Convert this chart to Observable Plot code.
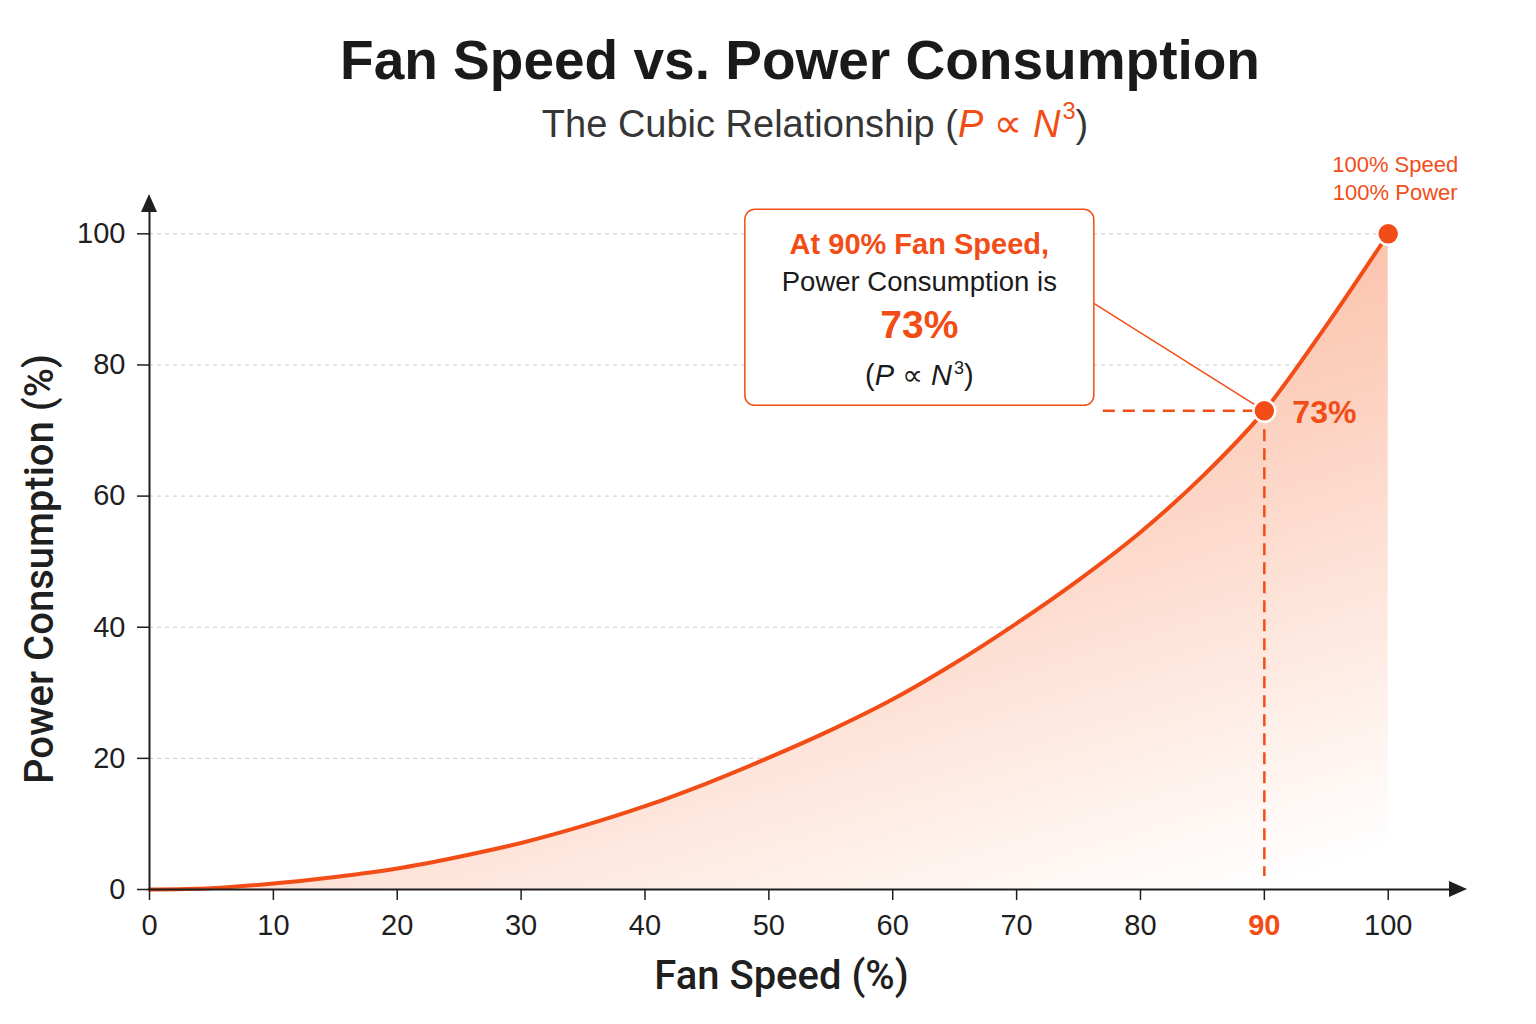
<!DOCTYPE html>
<html>
<head>
<meta charset="utf-8">
<script src="https://cdn.jsdelivr.net/npm/d3@7"></script>
<script src="https://cdn.jsdelivr.net/npm/@observablehq/plot@0.6"></script>
<style>
  html, body { margin: 0; padding: 0; background: #ffffff; }
  #page { position: relative; width: 1536px; height: 1024px; overflow: hidden;
          font-family: "Liberation Sans", Arial, Helvetica, sans-serif; }
  #title { position: absolute; left: 0; top: 33px; width: 1536px; box-sizing: border-box;
           padding-left: 64px; margin: 0; text-align: center; font-size: 55px; line-height: 55px;
           font-weight: 700; color: #1a1a1a; }
  #subtitle { position: absolute; left: 0; top: 104px; width: 1536px; box-sizing: border-box;
              padding-left: 94px; margin: 0; text-align: center; font-size: 38px; line-height: 38px;
              font-weight: 400; color: #363636; }
  #subtitle .hl { color: #f24d17; }
  #subtitle .prop { font-family: "DejaVu Sans", sans-serif; font-size: 1.05em; }
  #subtitle sup { font-size: 0.62em; line-height: 0; position: relative; top: -0.2em; margin-left: 2px; vertical-align: super; }
  #chart { position: absolute; left: 0; top: 150px; }
</style>
</head>
<body>
<div id="page">
  <h1 id="title">Fan Speed vs. Power Consumption</h1>
  <p id="subtitle">The Cubic Relationship (<span class="hl"><i>P</i> <span class="prop">∝</span> <i>N</i><sup>3</sup></span>)</p>
  <div id="chart"></div>
</div>
<script>
// Fan speed (% of rated) and the matching power draw (% of rated)
const speed = [0, 5, 10, 15, 20, 25, 30, 35, 40, 45, 50, 55, 60, 65, 70, 75, 80, 85, 90, 95, 100];
const power = [0, 0.2, 0.9, 1.9, 3.2, 5.0, 7.1, 9.7, 12.7, 16.2, 20.1, 24.3, 29.0, 34.5, 40.6, 47.2, 54.5, 63.0, 73, 86, 100];

const xTicks = [0, 10, 20, 30, 40, 50, 60, 70, 80, 90, 100];
const yTicks = [0, 20, 40, 60, 80, 100];

// highlighted operating points
const focus = {speed: 90, power: 73};
const peak = {speed: 100, power: 100};

// reach of the axis arrows and of the dashed guide lines
const xEnd = 106.4;
const yEnd = 106;
const guideFrom = 77;
const guideTo = 2;

const ORANGE = "#f24d17";
const INK = "#1f1f1f";

const curve = speed.map((s, i) => ({speed: s, power: power[i]}));

// gradient used to shade the area under the curve
function gradientDefs() {
  const defs = d3.create("svg:defs");
  const g = defs.append("linearGradient")
    .attr("id", "powerFill")
    .attr("x1", 0.154).attr("y1", 0.262)
    .attr("x2", 0.668).attr("y2", 1.136);
  [[0, "#fbb79d"], [0.4, "#fcd1c0"], [0.72, "#feeae2"], [1, "#ffffff"]]
    .forEach(([o, c]) => g.append("stop").attr("offset", o).attr("stop-color", c));
  return defs.node();
}

// filled arrowheads at the ends of both axes
function axisArrows(index, {x, y}) {
  const g = d3.create("svg:g").attr("fill", INK);
  const ax = x(xEnd), ay = y(0);
  g.append("path").attr("d", `M${ax},${ay}L${ax - 18},${ay - 8}L${ax - 18},${ay + 8}Z`);
  const bx = x(0), by = y(yEnd);
  g.append("path").attr("d", `M${bx},${by}L${bx - 8},${by + 18}L${bx + 8},${by + 18}Z`);
  return g.node();
}

// callout box explaining the 90% point
function callout(index, {x, y}) {
  const px = x(focus.speed), py = y(focus.power);
  const w = 349, h = 196;
  const left = px - 519, top = py - 201;
  const cx = left + w / 2;
  const g = d3.create("svg:g").attr("font-family", '"Liberation Sans", Arial, sans-serif');
  g.append("line")
    .attr("x1", left + w).attr("y1", top + 94)
    .attr("x2", px).attr("y2", py)
    .attr("stroke", ORANGE).attr("stroke-width", 1.5);
  g.append("rect")
    .attr("x", left).attr("y", top).attr("width", w).attr("height", h)
    .attr("rx", 10).attr("fill", "#ffffff")
    .attr("stroke", ORANGE).attr("stroke-width", 1.5);
  g.append("text").attr("x", cx).attr("y", top + 45).attr("text-anchor", "middle")
    .attr("font-size", 29).attr("font-weight", 700).attr("fill", ORANGE)
    .text(`At ${focus.speed}% Fan Speed,`);
  g.append("text").attr("x", cx).attr("y", top + 82).attr("text-anchor", "middle")
    .attr("font-size", 27.5).attr("fill", "#1a1a1a")
    .text("Power Consumption is");
  g.append("text").attr("x", cx).attr("y", top + 129).attr("text-anchor", "middle")
    .attr("font-size", 39).attr("font-weight", 700).attr("fill", ORANGE)
    .text(`${focus.power}%`);
  const f = g.append("text").attr("x", cx).attr("y", top + 176).attr("text-anchor", "middle")
    .attr("font-size", 29).attr("fill", "#1a1a1a");
  f.append("tspan").text("(");
  f.append("tspan").attr("font-style", "italic").text("P");
  f.append("tspan").text(" ");
  f.append("tspan").attr("font-family", '"DejaVu Sans", sans-serif').attr("font-size", 29).text("∝");
  f.append("tspan").text(" ");
  f.append("tspan").attr("font-style", "italic").text("N");
  f.append("tspan").attr("font-size", 18).attr("dx", 2).attr("dy", -11).text("3");
  f.append("tspan").attr("dy", 11).text(")");
  return g.node();
}

const chart = Plot.plot({
  width: 1536,
  height: 874,
  marginLeft: 149,
  marginRight: 69,
  marginTop: 44,
  marginBottom: 135,
  x: {domain: [0, xEnd]},
  y: {domain: [0, yEnd]},
  style: {
    fontFamily: '"Liberation Sans", Arial, Helvetica, sans-serif',
    fontSize: "29px",
    color: INK,
    background: "transparent",
    overflow: "visible"
  },
  marks: [
    gradientDefs,
    // horizontal grid
    Plot.ruleY(yTicks.filter((d) => d > 0), {
      x1: 0, x2: peak.speed, stroke: "#c9c9c9", strokeWidth: 1, strokeDasharray: "4,4"
    }),
    // shaded area and the power curve
    Plot.areaY(curve, {x: "speed", y: "power", fill: "url(#powerFill)", curve: "monotone-x"}),
    // dashed guides to the 90% point
    Plot.ruleY([focus], {
      y: "power", x1: guideFrom, x2: "speed",
      stroke: ORANGE, strokeWidth: 2.5, strokeDasharray: "12,8"
    }),
    Plot.ruleX([focus], {
      x: "speed", y1: "power", y2: guideTo,
      stroke: ORANGE, strokeWidth: 2.5, strokeDasharray: "12,7"
    }),
    Plot.line(curve, {
      x: "speed", y: "power", stroke: ORANGE, strokeWidth: 4,
      curve: "monotone-x", strokeLinecap: "round"
    }),
    // axis lines
    Plot.ruleY([0], {x1: 0, x2: xEnd - 1, stroke: INK, strokeWidth: 2}),
    Plot.ruleX([0], {y1: 0, y2: yEnd - 1.5, stroke: INK, strokeWidth: 2}),
    axisArrows,
    Plot.axisX(xTicks, {
      tickSize: 11, tickPadding: 14, strokeWidth: 1.5, label: null,
      tickFormat: (d) => (d === focus.speed ? "" : d)
    }),
    Plot.text([focus], {
      x: "speed", frameAnchor: "bottom", dy: 25, lineAnchor: "top",
      text: (d) => `${d.speed}`, fill: ORANGE, fontSize: 29, fontWeight: 600
    }),
    Plot.axisY(yTicks, {tickSize: 12, tickPadding: 12, strokeWidth: 1.5, label: null}),
    // axis titles
    Plot.text(["Fan Speed (%)"], {
      text: (d) => d, frameAnchor: "bottom", dx: -27, dy: 99,
      fontSize: 40, fontWeight: 500, fontFamily: "Roboto, 'Liberation Sans', sans-serif", fill: "#1f1f1f"
    }),
    Plot.text(["Power Consumption (%)"], {
      text: (d) => d, frameAnchor: "left", dx: -109, dy: 27, rotate: -90, textAnchor: "middle",
      fontSize: 40, fontWeight: 500, fontFamily: "Roboto, 'Liberation Sans', sans-serif", fill: "#1f1f1f"
    }),
    callout,
    // highlighted points and their labels
    Plot.dot([focus, peak], {
      x: "speed", y: "power", r: 11, fill: ORANGE, stroke: "#ffffff", strokeWidth: 2.5
    }),
    Plot.text([focus], {
      x: "speed", y: "power", text: (d) => `${d.power}%`, dx: 28, dy: 2,
      textAnchor: "start", fontSize: 32, fontWeight: 700, fill: ORANGE
    }),
    Plot.text([peak], {
      x: "speed", y: "power", text: (d) => `${d.speed}% Speed\n${d.power}% Power`,
      dx: 7, dy: -57, lineHeight: 1.3, fontSize: 22, fill: ORANGE
    })
  ]
});

document.getElementById("chart").appendChild(chart);
</script>
</body>
</html>
